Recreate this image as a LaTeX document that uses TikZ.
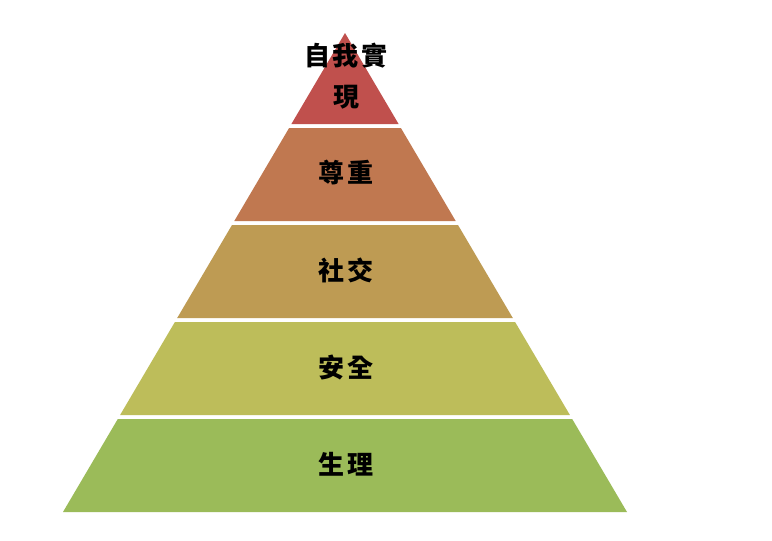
\documentclass[tikz,border=0pt]{standalone}
\usepackage{fontspec}
\newfontfamily\cjk{Noto Sans CJK TC}
\definecolor{lv1}{RGB}{192,80,77}
\definecolor{lv2}{RGB}{192,120,80}
\definecolor{lv3}{RGB}{190,155,83}
\definecolor{lv4}{RGB}{189,189,90}
\definecolor{lv5}{RGB}{155,187,89}
\tikzset{
  level/.style={draw=none},
  lab/.style={font=\cjk\bfseries\fontsize{26}{41}\selectfont, text=black, inner sep=0pt, align=center}
}
\begin{document}
\begin{tikzpicture}[x=1pt,y=-1pt]
\useasboundingbox (0,0) rectangle (772,541);
\fill[white] (0,0) rectangle (772,541);
\fill[lv1] (345,33) -- (398.6,124) -- (291.4,124) -- cycle;
\fill[lv2] (289.1,128) -- (400.9,128) -- (455.7,221) -- (234.3,221) -- cycle;
\fill[lv3] (232.0,225) -- (458.0,225) -- (512.8,318) -- (177.2,318) -- cycle;
\fill[lv4] (174.9,322) -- (515.1,322) -- (569.9,415) -- (120.1,415) -- cycle;
\fill[lv5] (117.8,419) -- (572.2,419) -- (627.0,512) -- (63.0,512) -- cycle;
\node[lab] (t1) at (346,76) {自\kern3pt 我\kern3pt 實\\現};
\node[lab] (t2) at (346,173) {尊\kern3pt 重};
\node[lab] (t3) at (346,270) {社\kern3pt 交};
\node[lab] (t4) at (346,367) {安\kern3pt 全};
\node[lab] (t5) at (346,464) {生\kern3pt 理};
\end{tikzpicture}
\end{document}
